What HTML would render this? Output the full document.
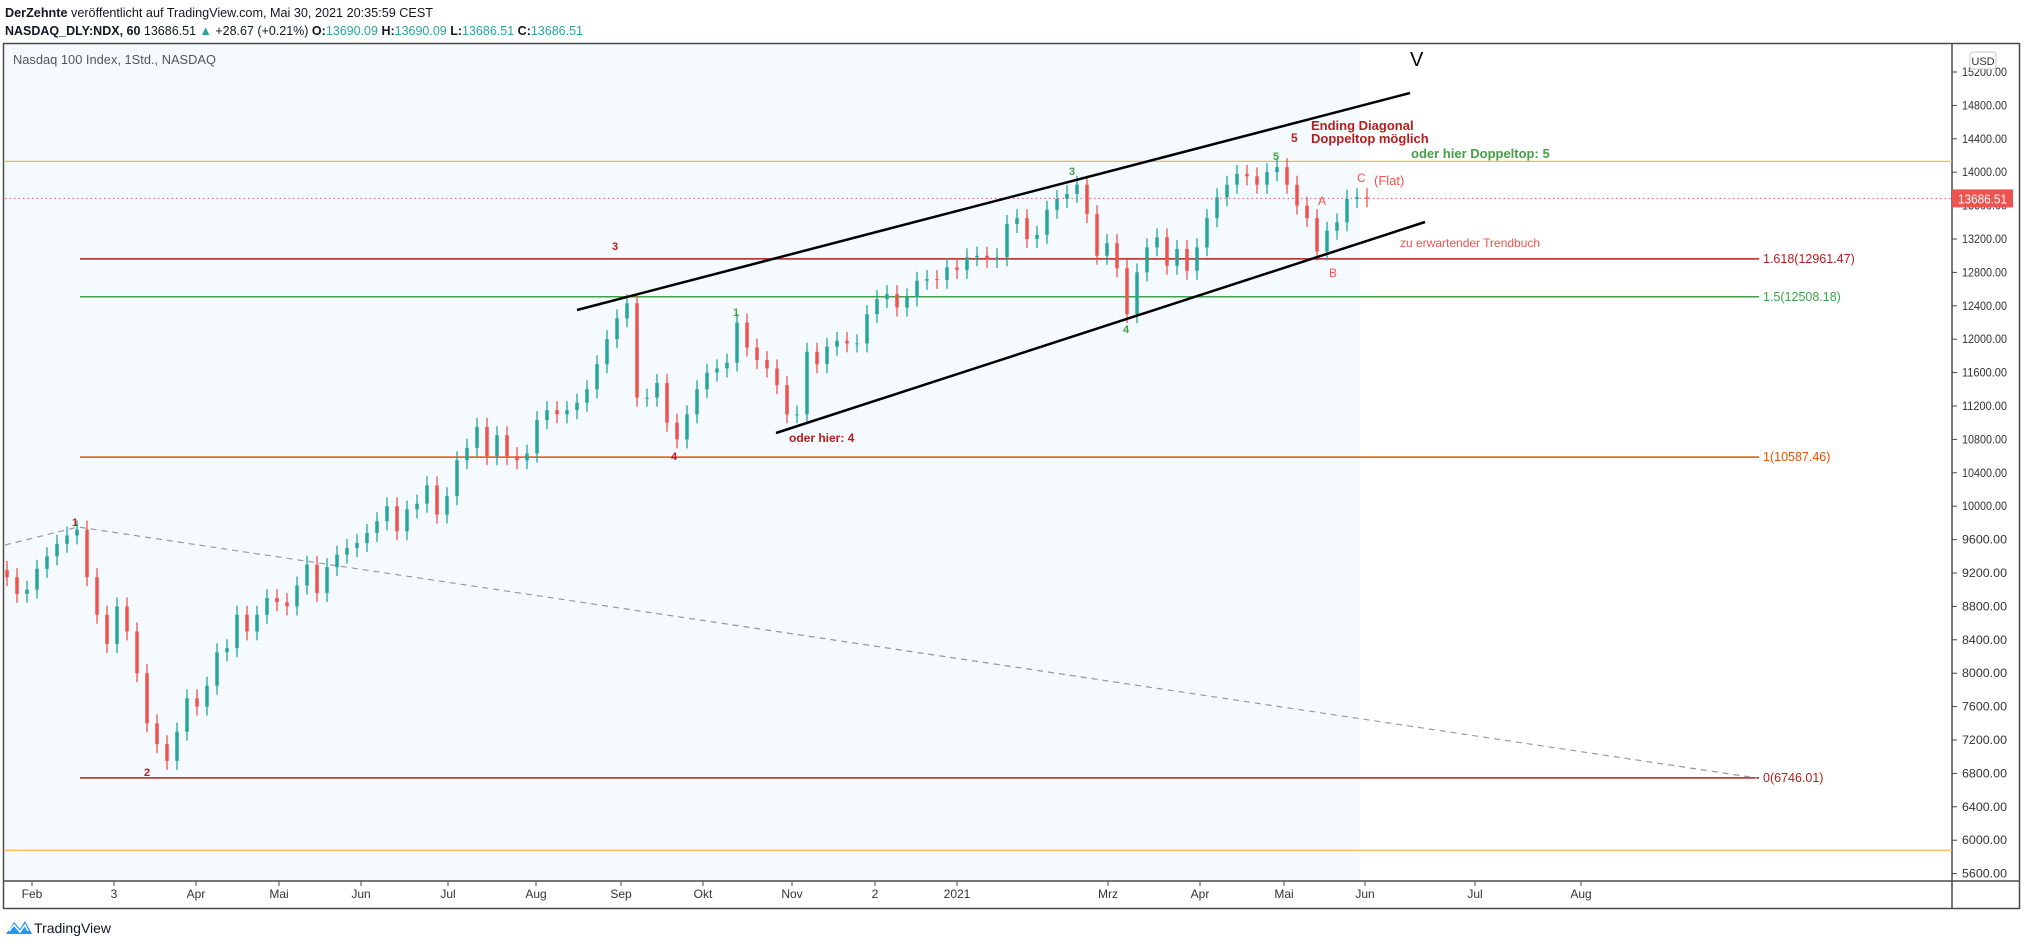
<!DOCTYPE html>
<html><head><meta charset="utf-8"><style>
html,body{margin:0;padding:0;background:#fff;}
svg{display:block;font-family:"Liberation Sans",sans-serif;}
</style></head><body>
<svg id="chart" width="2024" height="946" viewBox="0 0 2024 946" xmlns="http://www.w3.org/2000/svg">
  <rect x="0" y="0" width="2024" height="946" fill="#ffffff"/>
  <g>
    <text x="5" y="17" font-size="13" fill="#131722" textLength="428" lengthAdjust="spacingAndGlyphs"><tspan font-weight="bold">DerZehnte</tspan> veröffentlicht auf TradingView.com, Mai 30, 2021 20:35:59 CEST</text>
    <text x="5" y="35" font-size="13" fill="#131722" textLength="578" lengthAdjust="spacingAndGlyphs"><tspan font-weight="bold">NASDAQ_DLY:NDX, 60</tspan> 13686.51 <tspan fill="#26a69a">▲</tspan> +28.67 (+0.21%) <tspan font-weight="bold">O:</tspan><tspan fill="#26a69a">13690.09</tspan> <tspan font-weight="bold">H:</tspan><tspan fill="#26a69a">13690.09</tspan> <tspan font-weight="bold">L:</tspan><tspan fill="#26a69a">13686.51</tspan> <tspan font-weight="bold">C:</tspan><tspan fill="#26a69a">13686.51</tspan></text>
  </g>
  <rect x="5" y="44" width="1355" height="837" fill="#f5faff"/>
  <g id="frame">
    <rect x="3.5" y="43.5" width="2016" height="865" fill="none" stroke="#4a4a4a" stroke-width="1.5"/>
    <line x1="1952" y1="43" x2="1952" y2="909" stroke="#4a4a4a" stroke-width="1.5"/>
    <line x1="3" y1="881" x2="2020" y2="881" stroke="#4a4a4a" stroke-width="1.5"/>
  </g>
  <text x="13" y="64" font-size="13" fill="#555" textLength="203" lengthAdjust="spacingAndGlyphs">Nasdaq 100 Index, 1Std., NASDAQ</text>
  <g id="hlines"></g>
  <g id="candles"></g>
  <g id="overlays"></g>
  <g id="yaxis"></g>
  <g id="xaxis" font-size="12" fill="#333">
    <text x="32" y="898" text-anchor="middle">Feb</text>
    <text x="114" y="898" text-anchor="middle">3</text>
    <text x="196" y="898" text-anchor="middle">Apr</text>
    <text x="279" y="898" text-anchor="middle">Mai</text>
    <text x="361" y="898" text-anchor="middle">Jun</text>
    <text x="448" y="898" text-anchor="middle">Jul</text>
    <text x="536" y="898" text-anchor="middle">Aug</text>
    <text x="621" y="898" text-anchor="middle">Sep</text>
    <text x="703" y="898" text-anchor="middle">Okt</text>
    <text x="792" y="898" text-anchor="middle">Nov</text>
    <text x="875" y="898" text-anchor="middle">2</text>
    <text x="957" y="898" text-anchor="middle">2021</text>
    <text x="1108" y="898" text-anchor="middle">Mrz</text>
    <text x="1200" y="898" text-anchor="middle">Apr</text>
    <text x="1284" y="898" text-anchor="middle">Mai</text>
    <text x="1365" y="898" text-anchor="middle">Jun</text>
    <text x="1475" y="898" text-anchor="middle">Jul</text>
    <text x="1581" y="898" text-anchor="middle">Aug</text>
    <g stroke="#4a4a4a">
      <line x1="32" y1="881" x2="32" y2="886"/><line x1="114" y1="881" x2="114" y2="886"/><line x1="196" y1="881" x2="196" y2="886"/><line x1="279" y1="881" x2="279" y2="886"/><line x1="361" y1="881" x2="361" y2="886"/><line x1="448" y1="881" x2="448" y2="886"/><line x1="536" y1="881" x2="536" y2="886"/><line x1="621" y1="881" x2="621" y2="886"/><line x1="703" y1="881" x2="703" y2="886"/><line x1="792" y1="881" x2="792" y2="886"/><line x1="875" y1="881" x2="875" y2="886"/><line x1="957" y1="881" x2="957" y2="886"/><line x1="1108" y1="881" x2="1108" y2="886"/><line x1="1200" y1="881" x2="1200" y2="886"/><line x1="1284" y1="881" x2="1284" y2="886"/><line x1="1365" y1="881" x2="1365" y2="886"/><line x1="1475" y1="881" x2="1475" y2="886"/><line x1="1581" y1="881" x2="1581" y2="886"/>
    </g>
  </g>
  <g>
    <path d="M6 934 L14 922 L20 929 L25 921 L32 934 Z" fill="#2196f3"/>
    <path d="M9 931 L14 925 L20 932 L25 925 L28 931" fill="none" stroke="#fff" stroke-width="1.6"/>
    <text x="34" y="933" font-size="14" fill="#131722">TradingView</text>
  </g>
</svg>
<script>
const closes = [9150,8950,9000,9250,9400,9550,9650,9720,9150,8700,
8350,8800,8500,8000,7400,7150,6950,7300,7700,7600,
7850,8250,8300,8700,8500,8700,8900,8850,8800,9050,
9300,8960,9270,9420,9500,9560,9680,9820,10000,9700,
9960,10030,10250,9900,10120,10550,10700,10950,10600,10850,
10600,10550,10630,11030,11150,11100,11150,11240,11400,11700,
12000,12250,12430,11300,11300,11476,11000,10800,11100,11400,
11600,11650,11720,12200,11900,11750,11650,11450,11100,11100,
11850,11700,11910,11980,11950,11950,12300,12480,12540,12380,
12500,12700,12720,12710,12860,12830,12980,13000,12960,12980,
13380,13450,13200,13250,13550,13680,13740,13850,13500,13000,
13150,12850,12300,12800,13100,13220,12880,13080,12820,13100,
13450,13700,13850,13980,13950,13850,14000,14060,13850,13600,
13450,13050,13300,13400,13680,13700,13686.51];
const firstOpen = 9236;
const priceTicks = [15200,14800,14400,14000,13600,13200,12800,12400,12000,11600,11200,10800,10400,10000,9600,9200,8800,8400,8000,7600,7200,6800,6400,6000,5600];
const fibLevels = [12961.47,12508.18,10587.46,6746.01];
const fibLabels = ["1.618(12961.47)","1.5(12508.18)","1(10587.46)","0(6746.01)"];
const fibColors = ["#b71c1c","#43a047","#e65100","#b71c1c"];
const lastPrice = 13686.51;
const upperBand = 14130;
const lowerBand = 5880;

const NS = "http://www.w3.org/2000/svg";
function yScale(p){ return 72 + (15200 - p) * 0.0835; }
function xScale(i){ return 7 + i * 10; }
function mk(tag, attrs, parent){ const e = document.createElementNS(NS, tag); for (const k in attrs) e.setAttribute(k, attrs[k]); parent.appendChild(e); return e; }

const hl = document.getElementById('hlines');
let e;
e = mk('line',{x1:5,x2:1952,y1:yScale(upperBand),y2:yScale(upperBand),stroke:'#f5b942','stroke-width':1.3},hl);


e = mk('line',{x1:5,x2:1952,y1:yScale(lowerBand),y2:yScale(lowerBand),stroke:'#f5b942','stroke-width':1.3},hl);


e = mk('line',{x1:5,x2:1952,y1:yScale(lastPrice),y2:yScale(lastPrice),stroke:'#ef5350','stroke-width':1,'stroke-dasharray':'1.5 3'},hl);


fibLevels.forEach((lv,k)=>{
  const y = yScale(lv);
  const ln = mk('line',{x1:80,x2:1759,y1:y,y2:y,stroke:fibColors[k],'stroke-width':1.5},hl);
  
  
  const t = mk('text',{x:1763,y:y+4,'font-size':12.5,fill:fibColors[k]},hl);
  t.textContent = fibLabels[k];
  
  
});
e = mk('polyline',{points:'5,545 78,527 1757,778',fill:'none',stroke:'#9598a1','stroke-width':1.2,'stroke-dasharray':'6 5'},hl);



const cg = document.getElementById('candles');
closes.forEach((c,i)=>{
  const o = i === 0 ? firstOpen : closes[i-1];
  const up = c >= o;
  const col = up ? '#26a69a' : '#ef5350';
  const x = xScale(i);
  const yt = yScale(Math.max(o,c)), yb = yScale(Math.min(o,c));
  const w = mk('line',{x1:x,x2:x,y1:yt-9,y2:yb+9,stroke:col,'stroke-width':1.3},cg);
  
  
  const b = mk('rect',{x:x-1.75,y:yt,width:3.5,height:Math.max(1,yb-yt),fill:col},cg);
  
  
});

const ov = document.getElementById('overlays');
e = mk('line',{x1:577,y1:310,x2:1410,y2:93,stroke:'#000','stroke-width':2.5},ov);


e = mk('line',{x1:776,y1:433,x2:1425,y2:222,stroke:'#000','stroke-width':2.5},ov);


const labels = [
  ['V',1410,66,'#000',20,'normal','wave-v-label'],
  ['Ending Diagonal',1311,130,'#b71c1c',13,'bold','ending-diagonal-note'],
  ['Doppeltop möglich',1311,143,'#b71c1c',13,'bold','doppeltop-note'],
  ['5',1291,142,'#b71c1c',12,'bold','red-wave-5'],
  ['oder hier Doppeltop: 5',1411,158,'#43a047',13,'bold','alt-doppeltop-note'],
  ['C',1357,182,'#ef5350',12,'normal','wave-c-label'],
  ['(Flat)',1374,185,'#ef5350',13,'normal','flat-note'],
  ['A',1318,205,'#ef5350',12,'normal','wave-a-label'],
  ['B',1329,277,'#ef5350',12,'normal','wave-b-label'],
  ['zu erwartender Trendbuch',1400,247,'#ef5350',12,'normal','trendbruch-note'],
  ['1',72,526,'#b71c1c',11,'bold','red-wave-1'],
  ['2',144,776,'#b71c1c',11,'bold','red-wave-2'],
  ['3',612,250,'#b71c1c',11,'bold','red-wave-3'],
  ['4',671,460,'#b71c1c',11,'bold','red-wave-4'],
  ['oder hier: 4',789,442,'#b71c1c',12,'bold','alt-wave-4-note'],
  ['1',733,316,'#43a047',11,'bold','green-wave-1'],
  ['3',1069,175,'#43a047',11,'bold','green-wave-3'],
  ['4',1123,333,'#43a047',11,'bold','green-wave-4'],
  ['5',1273,160,'#43a047',11,'bold','green-wave-5']
];
labels.forEach(l=>{
  const t = mk('text',{x:l[1],y:l[2],fill:l[3],'font-size':l[4],'font-weight':l[5]},ov);
  t.textContent = l[0];
  
  
});

const ya = document.getElementById('yaxis');


priceTicks.forEach(p=>{
  const y = yScale(p);
  const tk = mk('line',{x1:1952,x2:1957,y1:y,y2:y,stroke:'#4a4a4a'},ya);
  
  
  const t = mk('text',{x:1962,y:y+4,'font-size':12,fill:'#333',textLength:45,lengthAdjust:'spacingAndGlyphs'},ya);
  t.textContent = p.toFixed(2);
  
  
});
e = mk('rect',{x:1970,y:52,width:26,height:17,rx:3,fill:'#fff',stroke:'#c8c8c8'},ya);


e = mk('text',{x:1983,y:65,'font-size':11,fill:'#333','text-anchor':'middle'},ya);
e.textContent = 'USD';


const ly = yScale(lastPrice);
e = mk('rect',{x:1952,y:ly-9,width:61,height:18,fill:'#ef5350'},ya);


e = mk('text',{x:1958,y:ly+5,'font-size':12.5,fill:'#fff',textLength:49,lengthAdjust:'spacingAndGlyphs'},ya);
e.textContent = lastPrice.toFixed(2);


</script>
</body></html>
